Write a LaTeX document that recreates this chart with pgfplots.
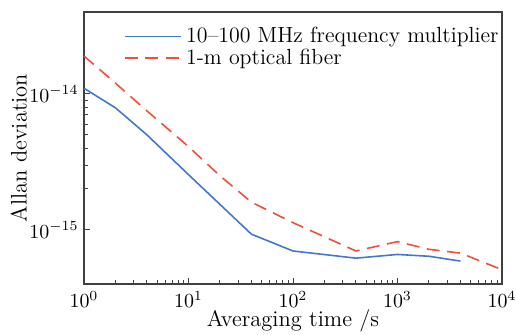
\documentclass[border=0pt]{standalone}
\usepackage{pgfplots}
\pgfplotsset{compat=1.18}
\definecolor{cblue}{RGB}{66,120,204}
\definecolor{cred}{RGB}{240,80,58}
\begin{document}
\fontsize{11}{13}\selectfont
\begin{tikzpicture}
\begin{loglogaxis}[
  name=main,
  scale only axis,
  width=209bp, height=136bp,
  xmin=1, xmax=10000,
  ymin=4e-16, ymax=4e-14,
  xtick={1,10,100,1000,10000},
  ytick={1e-15,1e-14},
  tick pos=left,
  tick align=inside,
  tick label style={font=\fontsize{10.4}{12}\selectfont},
  xticklabel style={inner sep=1pt, yshift=-2.5pt},
  yticklabel style={inner sep=1pt, xshift=-1.5pt},
  label style={font=\fontsize{11.3}{13.5}\selectfont},
  axis line style={black!75, line width=0.7pt},
  every tick/.style={black!75, line width=0.5pt},
  major tick length=3pt, minor tick length=1.8pt,
  xlabel={Averaging time /s},
  ylabel={Allan deviation},
  xlabel style={inner sep=1pt, yshift=1pt},
  ylabel style={inner sep=1pt, yshift=-1pt},
  legend style={at={(rel axis cs:0.08,0.975)}, anchor=north west, draw=none, fill=none, font=\fontsize{11}{13}\selectfont, row sep=-2.5pt},
  legend cell align=left,
  legend image code/.code={\draw[#1] (0cm,0cm) -- (1cm,0cm);},
]
\addplot[cblue, line width=0.8pt] coordinates {
 (1,1.1e-14) (2,7.9e-15) (4,5.0e-15) (10,2.55e-15) (40,9.3e-16)
 (100,7.0e-16) (400,6.2e-16) (1000,6.6e-16) (2000,6.4e-16) (4000,5.9e-16)
};
\addlegendentry{10--100 MHz frequency multiplier}
\addplot[cred, line width=0.8pt, dash pattern=on 6.5pt off 3.8pt] coordinates {
 (1,1.9e-14) (2,1.2e-14) (4,7.5e-15) (10,4.1e-15) (20,2.5e-15) (40,1.6e-15)
 (100,1.13e-15) (200,8.9e-16) (400,7.0e-16) (1000,8.2e-16) (2000,7.2e-16)
 (4000,6.75e-16) (10000,5.1e-16)
};
\addlegendentry{1-m optical fiber}
\end{loglogaxis}
\pgfresetboundingbox
\path ([shift={(-42bp,-25.5bp)}]main.south west) rectangle ([shift={(7bp,6bp)}]main.north east);
\end{tikzpicture}
\end{document}
